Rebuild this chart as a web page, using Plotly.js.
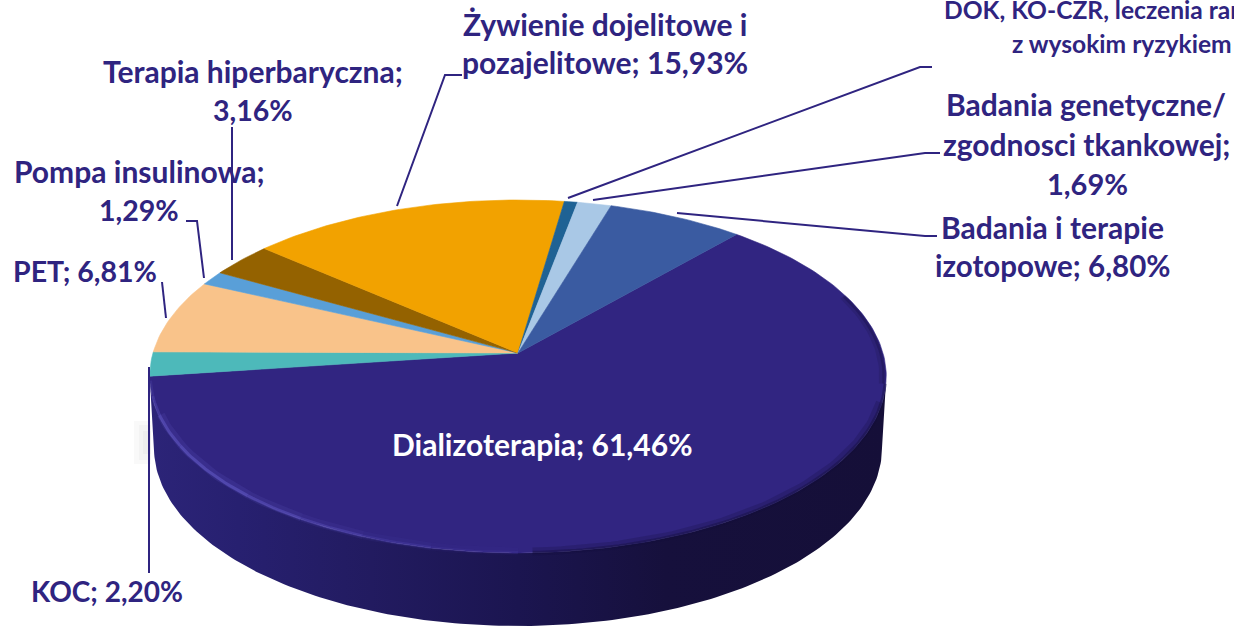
<!DOCTYPE html>
<html><head><meta charset="utf-8">
<script src="https://cdn.plot.ly/plotly-3.0.1.min.js"></script>
<style>html,body{margin:0;padding:0;background:#fff;overflow:hidden}#c{width:1234px;height:627px}</style>
</head><body><div id="c"></div>
<script>
// Data, clockwise starting from the Dializoterapia slice
const categories = ["Dializoterapia","KOC","PET","Pompa insulinowa","Terapia hiperbaryczna","Żywienie dojelitowe i pozajelitowe","DOK, KO-CZR, leczenia ran z wysokim ryzykiem","Badania genetyczne/zgodnosci tkankowej","Badania i terapie izotopowe"];
const values = [61.46,2.20,6.81,1.29,3.16,15.93,0.66,1.69,6.80];
const sliceColors = ["#312581","#4db9ba","#f9c38a","#599fd8","#946200","#f2a200","#1f6294","#a9c8e6","#3a5ba1"];

// Text labels (one entry per drawn line)
const labelTexts = ["Żywienie dojelitowe i","pozajelitowe; 15,93%","DOK, KO-CZR, leczenia ran","z wysokim ryzykiem","Badania genetyczne/","zgodnosci tkankowej;","1,69%","Badania i terapie","izotopowe; 6,80%","Terapia hiperbaryczna;","3,16%","Pompa insulinowa;","1,29%","PET; 6,81%","KOC; 2,20%","Dializoterapia; 61,46%"];
const labelX = [605,605,942,1010,1086,1086,1087,1052,1052,253,253,139,139,85,107,542];
const labelY = [24,62,9,43,104,144,183,227,265,71,110,171,210,271,591,444];
const labelAnchor = ["center","center","left","left","center","center","center","center","center","center","center","center","center","center","center","center"];
const labelSize = [30,30,24.6,24.6,30,30,29,30,29.5,30,28.5,30,28.5,28.5,28,30];

// Leader lines (page pixels)
const leaders = [
 [[397,206],[445,75],[462,75]],
 [[568,198],[920,67],[932,67]],
 [[593,200],[925,153],[940,153]],
 [[677,213],[925,236],[937,236]],
 [[232,127],[232,260]],
 [[204,278],[197,221],[186,221]],
 [[166,318],[162,282]],
 [[149,367],[149,573]]
];

// Pie geometry: a circle seen in perspective
const startAngle = 41.2, apexX = 518, apexY = 353, scaleX = 365, scaleY = 126.4, persp = 0.133;
function project(deg, inset){
  const t = deg*Math.PI/180, k = 1-(inset||0), u = k*Math.sin(t), v = k*Math.cos(t), d = 1+persp*v;
  return [apexX+scaleX*u/d, (apexY-scaleY*v)/d];
}
function arc(a,b,inset){
  const pts=[], n=Math.max(2,Math.ceil(Math.abs(b-a)));
  for(let i=0;i<=n;i++) pts.push(project(a+(b-a)*i/n,inset));
  return pts;
}
// Side wall: lower rim ellipse
const rimCx=518, rimCy=448, rimRx=364, rimRy=178;
function wallOutline(){
  const pts=[];
  for(let a=90;a<=270;a+=1){
    const t=a*Math.PI/180;
    pts.push([rimCx+rimRx*Math.sin(t), rimCy-rimRy*Math.cos(t)]);
  }
  return pts.concat(arc(262,98));
}
const traces=[];
const wall=wallOutline();
traces.push({type:"scatter",mode:"lines",x:wall.map(p=>p[0]),y:wall.map(p=>p[1]),fill:"toself",
  line:{width:0,color:"#1a1450"},hoverinfo:"skip",showlegend:false,
  fillgradient:{type:"horizontal",start:150,stop:886,colorscale:[[0,"#2c2478"],[0.12,"#272070"],[0.3,"#221b60"],[0.5,"#1b1550"],[0.7,"#16103c"],[1,"#150f38"]]}});

const total=values.reduce((s,v)=>s+v,0);
let ang=startAngle;
values.forEach((val,i)=>{
  const next=ang+val/total*360;
  const pts=[[apexX,apexY]].concat(arc(ang,next)).concat([[apexX,apexY]]);
  traces.push({type:"scatter",mode:"lines",x:pts.map(p=>p[0]),y:pts.map(p=>p[1]),fill:"toself",fillcolor:sliceColors[i],
    line:{width:0.6,color:sliceColors[i]},name:categories[i],text:categories[i]+": "+val.toFixed(2).replace(".",",")+"%",hoverinfo:"text",hoveron:"fills",showlegend:false});
  ang=next;
});
// Bevel: soft dark rim to the right, light rim to the left
function rim(a,b,color,width,inset){
  const p=arc(a,b,inset);
  traces.push({type:"scatter",mode:"lines",x:p.map(q=>q[0]),y:p.map(q=>q[1]),line:{color:color,width:width},hoverinfo:"skip",showlegend:false});
}
rim(106,178,"rgba(20,14,60,0.22)",8,0.006);
rim(100,178,"rgba(20,14,60,0.4)",3,0.002);
rim(70,100,"rgba(20,14,60,0.3)",3,0.006);
rim(70,100,"rgba(20,14,60,0.18)",5,0.012);
const glow=[[180,192,0.15],[192,202,0.3],[202,212,0.5],[212,222,0.7],[222,240,0.85],[240,250,0.8]];
glow.forEach(g=>{rim(g[0],g[1],"rgba(78,68,170,"+(g[2]*0.35)+")",8,0.006);rim(g[0],g[1],"rgba(84,74,178,"+g[2]+")",3,0.002);});
rim(250,256,"rgba(84,74,178,0.5)",3,0.002);
rim(256,261,"rgba(84,74,178,0.25)",3,0.002);

const shapes=leaders.map(l=>({type:"path",xref:"x",yref:"y",layer:"above",
  path:"M"+l.map(p=>p[0]+","+p[1]).join("L"),line:{color:"#2f2480",width:2}}));
[[139,151,425,460],[134,151,421,464],[143,151,431,454]].forEach(r=>shapes.unshift({type:"rect",xref:"x",yref:"y",x0:r[0],x1:r[1],y0:r[2],y1:r[3],layer:"below",fillcolor:"rgba(0,0,0,0.022)",line:{width:0}}));

const annotations=labelTexts.map((t,i)=>({xref:"x",yref:"y",x:labelX[i],y:labelY[i],text:t,showarrow:false,
  xanchor:labelAnchor[i],yanchor:"middle",align:"center",
  font:{family:"Lato, sans-serif",size:labelSize[i],weight:700,color:i===labelTexts.length-1?"#ffffff":"#2f2480"}}));

Plotly.newPlot("c",traces,{
  width:1234,height:627,margin:{l:0,r:0,t:0,b:0},paper_bgcolor:"#fff",plot_bgcolor:"#fff",showlegend:false,
  xaxis:{range:[0,1234],visible:false,fixedrange:true},
  yaxis:{range:[627,0],visible:false,fixedrange:true},
  shapes:shapes,annotations:annotations,hovermode:"closest"
},{displayModeBar:false,responsive:false});
</script></body></html>
